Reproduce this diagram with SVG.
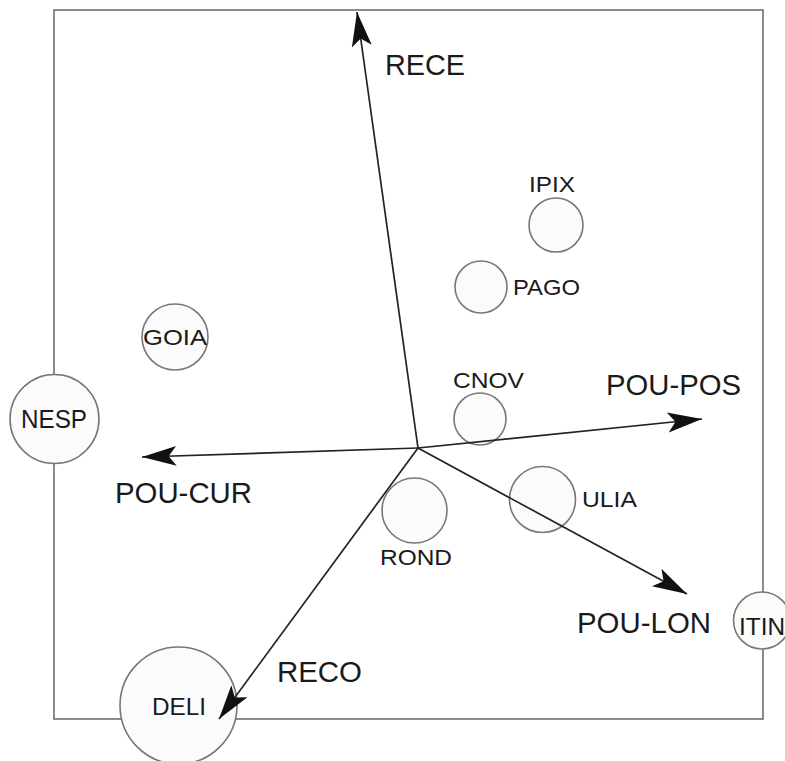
<svg xmlns="http://www.w3.org/2000/svg" width="785" height="761" viewBox="0 0 785 761">
<defs>
<style>
.frame{fill:none;stroke:#666;stroke-width:1.5}
.node circle{fill:#fbfbfb;stroke:#777;stroke-width:1.6}
.ax{fill:none;stroke:#222;stroke-width:1.7}
text{font-family:"Liberation Sans",Arial,sans-serif;fill:#1a1a1a}
.big{font-size:29px}
.sm{font-size:22px}
</style>
<marker id="ah" markerUnits="userSpaceOnUse" markerWidth="40" markerHeight="30" refX="0" refY="0" viewBox="-34 -12 36 24" orient="auto">
<path d="M0,0 L-31,-9 L-24,0 L-31,9 Z" fill="#111"/>
</marker>
</defs>
<rect class="frame" x="54" y="10" width="709" height="709"/>
<g id="IPIX" class="node"><circle cx="556" cy="225" r="27"/><text class="sm" x="529" y="192" textLength="46" lengthAdjust="spacingAndGlyphs">IPIX</text></g>
<g id="PAGO" class="node"><circle cx="481" cy="287" r="26"/><text class="sm" x="513" y="295" textLength="67" lengthAdjust="spacingAndGlyphs">PAGO</text></g>
<g id="CNOV" class="node"><circle cx="480" cy="419" r="26"/><text class="sm" x="453" y="388" textLength="71" lengthAdjust="spacingAndGlyphs">CNOV</text></g>
<g id="ULIA" class="node"><circle cx="542.5" cy="499.5" r="33"/><text class="sm" x="582" y="507" textLength="55" lengthAdjust="spacingAndGlyphs">ULIA</text></g>
<g id="ROND" class="node"><circle cx="414.5" cy="510.5" r="32.5"/><text class="sm" x="380" y="565" textLength="72" lengthAdjust="spacingAndGlyphs">ROND</text></g>
<g id="GOIA" class="node"><circle cx="175" cy="337" r="33"/><text class="sm" x="143" y="345" textLength="64" lengthAdjust="spacingAndGlyphs">GOIA</text></g>
<g id="NESP" class="node"><circle cx="54.5" cy="419" r="44.5"/><text x="21" y="428" font-size="25" textLength="66" lengthAdjust="spacingAndGlyphs">NESP</text></g>
<g id="DELI" class="node"><circle cx="178.5" cy="705.5" r="58.5"/><text x="152" y="715" font-size="23" textLength="54" lengthAdjust="spacingAndGlyphs">DELI</text></g>
<g id="ITIN" class="node"><circle cx="762" cy="620.5" r="28.5"/><text x="739" y="635" font-size="24" textLength="46" lengthAdjust="spacingAndGlyphs">ITIN</text></g>
<g id="connectors">
<line class="ax" x1="418" y1="448" x2="357" y2="12" marker-end="url(#ah)"/>
<line class="ax" x1="418" y1="448" x2="702" y2="419" marker-end="url(#ah)"/>
<line class="ax" x1="418" y1="448" x2="142" y2="457" marker-end="url(#ah)"/>
<line class="ax" x1="418" y1="448" x2="687" y2="594" marker-end="url(#ah)"/>
<line class="ax" x1="418" y1="448" x2="219" y2="719" marker-end="url(#ah)"/>
</g>
<g id="axis-labels">
<text class="big" x="385" y="75" textLength="80" lengthAdjust="spacingAndGlyphs">RECE</text>
<text class="big" x="606" y="395" textLength="135" lengthAdjust="spacingAndGlyphs">POU-POS</text>
<text class="big" x="115" y="503" textLength="137" lengthAdjust="spacingAndGlyphs">POU-CUR</text>
<text class="big" x="577" y="633" textLength="134" lengthAdjust="spacingAndGlyphs">POU-LON</text>
<text class="big" x="277" y="682" textLength="85" lengthAdjust="spacingAndGlyphs">RECO</text>
</g>
</svg>
